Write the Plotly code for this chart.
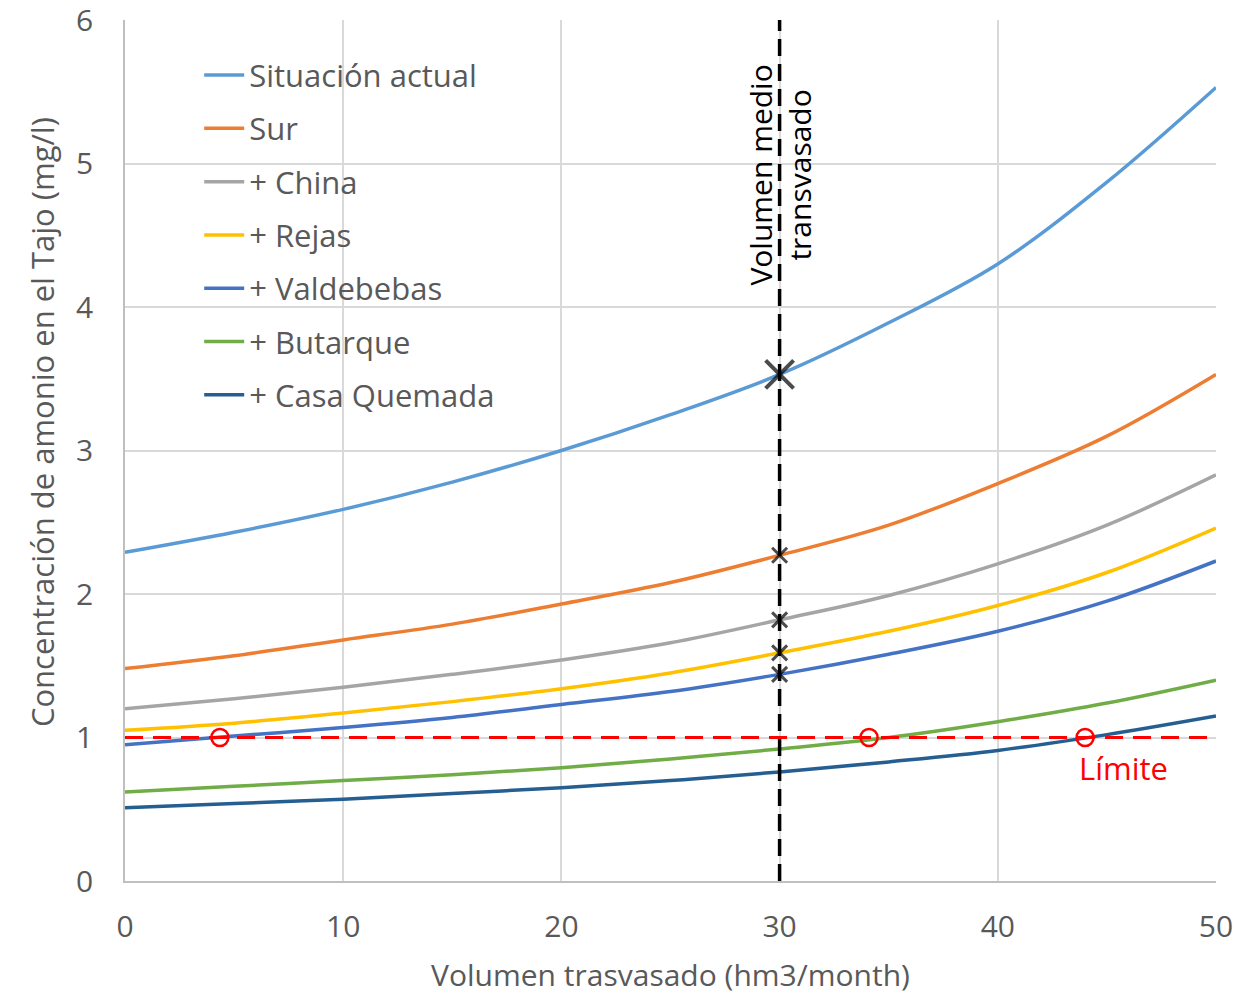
import plotly.graph_objects as go

x_vals = [0, 5, 10, 15, 20, 25, 30, 35, 40, 45, 50]
series_names = ["Situación actual", "Sur", "+ China", "+ Rejas", "+ Valdebebas", "+ Butarque", "+ Casa Quemada"]
situacion = [2.29, 2.43, 2.59, 2.78, 3.00, 3.25, 3.53, 3.89, 4.30, 4.87, 5.53]
sur = [1.48, 1.57, 1.68, 1.79, 1.93, 2.08, 2.27, 2.48, 2.77, 3.10, 3.53]
china = [1.20, 1.27, 1.35, 1.44, 1.54, 1.66, 1.82, 1.99, 2.21, 2.48, 2.83]
rejas = [1.05, 1.10, 1.17, 1.25, 1.34, 1.45, 1.59, 1.74, 1.92, 2.15, 2.46]
valdebebas = [0.95, 1.01, 1.07, 1.14, 1.23, 1.32, 1.44, 1.58, 1.74, 1.95, 2.23]
butarque = [0.62, 0.66, 0.70, 0.74, 0.79, 0.85, 0.92, 1.00, 1.11, 1.24, 1.40]
casa_quemada = [0.51, 0.54, 0.57, 0.61, 0.65, 0.70, 0.76, 0.83, 0.91, 1.02, 1.15]
colors = ["#5B9BD5", "#ED7D31", "#A5A5A5", "#FFC000", "#4472C4", "#70AD47", "#255E91"]

mean_volume = 30
cross_values = [3.53, 2.27, 1.82, 1.59, 1.44]
cross_sizes = [28, 15, 15, 15, 15]
limit_value = 1.0
limit_crossings_x = [4.35, 34.1, 44.0]

x_ticks = [0, 10, 20, 30, 40, 50]
y_ticks = [0, 1, 2, 3, 4, 5, 6]

all_series = [situacion, sur, china, rejas, valdebebas, butarque, casa_quemada]
FONT = "Open Sans"
GRAY = "#595959"

fig = go.Figure()
for i, (name, ys, c) in enumerate(zip(series_names, all_series, colors)):
    fig.add_trace(go.Scatter(x=x_vals, y=ys, name=name, mode="lines",
                             line=dict(color=c, width=3.5, shape="spline", smoothing=1.0),
                             legendgroup=f"g{i}"))

# limit line
fig.add_trace(go.Scatter(x=[0, 50], y=[limit_value, limit_value], mode="lines",
                         line=dict(color="#FF0000", width=3, dash="18px,10px"), showlegend=False))
# vertical mean volume line
fig.add_trace(go.Scatter(x=[mean_volume, mean_volume], y=[0, 6], mode="lines",
                         line=dict(color="black", width=3.5, dash="17px,8px"), showlegend=False))
# crosses
fig.add_trace(go.Scatter(x=[mean_volume] * len(cross_values), y=cross_values, mode="markers",
                         marker=dict(symbol="x-thin", size=cross_sizes, color="black",
                                     line=dict(width=[4, 3, 3, 3, 3], color="black")), showlegend=False))
# limit crossings
fig.add_trace(go.Scatter(x=limit_crossings_x, y=[limit_value] * len(limit_crossings_x), mode="markers",
                         marker=dict(symbol="circle-open", size=17, color="#FF0000",
                                     line=dict(width=2.5, color="#FF0000")), showlegend=False))

fig.add_annotation(x=mean_volume, y=4.92, xref="x", yref="y", text="Volumen medio<br>transvasado",
                   textangle=-90, showarrow=False, font=dict(size=30, color="black", family=FONT),
                   xanchor="center", yanchor="middle")
fig.add_annotation(x=45.74, y=0.79, xref="x", yref="y", text="Límite", showarrow=False,
                   font=dict(size=31, color="#FF0000", family=FONT), xanchor="center", yanchor="middle")
# y-axis title (placed as annotation to match its vertical offset)
fig.add_annotation(x=0, y=0.533, xref="paper", yref="paper", xshift=-83,
                   text="Concentración de amonio en el Tajo (mg/l)", textangle=-90, showarrow=False,
                   font=dict(size=31, color=GRAY, family=FONT), xanchor="center", yanchor="middle")

fig.update_layout(
    width=1236, height=995,
    margin=dict(l=125, r=20, t=20, b=114),
    plot_bgcolor="white", paper_bgcolor="white",
    font=dict(family=FONT, color=GRAY),
    legend=dict(x=0.068, y=0.967, xanchor="left", yanchor="top", bgcolor="rgba(0,0,0,0)",
                font=dict(size=31, color=GRAY), tracegroupgap=10, traceorder="grouped",
                itemwidth=40),
    showlegend=True,
)
fig.update_xaxes(range=[0, 50], tickvals=x_ticks, showgrid=True, gridcolor="#D9D9D9", gridwidth=1.5,
                 zeroline=False, showline=True, linecolor="#BFBFBF", linewidth=1.5, automargin=False,
                 tickfont=dict(size=30, color=GRAY), ticks="", ticklabelstandoff=18,
                 ticklabeloverflow="allow",
                 title=dict(text="Volumen trasvasado (hm3/month)", font=dict(size=30, color=GRAY), standoff=35))
fig.update_yaxes(range=[0, 6], tickvals=y_ticks, showgrid=True, gridcolor="#D9D9D9", gridwidth=1.5,
                 zeroline=False, showline=True, linecolor="#BFBFBF", linewidth=1.5, automargin=False,
                 tickfont=dict(size=30, color=GRAY), ticks="", ticklabelstandoff=24,
                 ticklabeloverflow="allow")

fig.write_html("out.html", config={"displayModeBar": False},
               post_script="document.body.style.margin='0';document.body.style.overflow='hidden';")
